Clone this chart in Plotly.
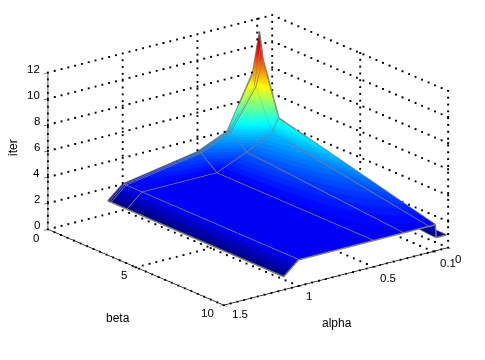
import plotly.graph_objects as go

alpha = [1.1, 1.0, 0.5, 0.3, 0.13, 0.085, 0.08, 0.01]
beta = [0, 0.1, 0.2, 1.1, 10]
iters = [
    [1, 1, 1, 1, 1],
    [2, 2, 2, 2, 2],
    [3, 3, 3, 2, 2],
    [4, 4, 4, 3, 2],
    [8, 7, 7, 4, 2],
    [11, 10, 9, 5, 2],
    [3, 3, 3, 2, 1],
    [1, 1, 1, 1, 1],
]
alpha_ticks = [0, 0.1, 0.5, 1, 1.5]
alpha_labels = ["0", "0.1", "0.5", "1", "1.5"]
beta_ticks = [0, 5, 10]
beta_labels = ["0", "5", "10"]
iter_ticks = [0, 2, 4, 6, 8, 10, 12]
iter_labels = ["0", "2", "4", "6", "8", "10", "12"]

jet_anchor = [(0, (0, 0, 128)), (0.11, (0, 0, 255)), (0.36, (0, 255, 255)),
              (0.61, (255, 255, 0)), (0.86, (255, 0, 0)), (1, (128, 0, 0))]
def jet(t):
    for (t0, c0), (t1, c1) in zip(jet_anchor, jet_anchor[1:]):
        if t <= t1:
            f = (t - t0) / (t1 - t0)
            return tuple(round(a + (b - a) * f) for a, b in zip(c0, c1))
    return jet_anchor[-1][1]
N = 64
scale = []
for i in range(N):
    col = "rgb(%d,%d,%d)" % jet((i + 0.5) / N)
    scale += [[i / N, col], [(i + 1) / N, col]]

fig = go.Figure()
fig.add_trace(go.Surface(
    x=alpha, y=beta, z=[list(c) for c in zip(*iters)], colorscale=scale, cmin=1, cmax=11,
    showscale=False, lighting=dict(ambient=1, diffuse=0, specular=0, roughness=1, fresnel=0),
    hoverinfo="skip"))

# mesh lines
mx, my, mz = [], [], []
for i, a in enumerate(alpha):
    for j, b in enumerate(beta):
        mx.append(a); my.append(b); mz.append(iters[i][j])
    mx.append(None); my.append(None); mz.append(None)
for j, b in enumerate(beta):
    for i, a in enumerate(alpha):
        mx.append(a); my.append(b); mz.append(iters[i][j])
    mx.append(None); my.append(None); mz.append(None)
fig.add_trace(go.Scatter3d(x=mx, y=my, z=mz, mode="lines",
                           line=dict(color="#808080", width=3), hoverinfo="skip", showlegend=False))

# dotted grid (dots placed along the tick lines)
amax, bmax, zmax = 1.5, 10, 12
gx, gy, gz = [], [], []
def seg(p, q, n):
    for k in range(n + 1):
        f = k / n
        gx.append(p[0] + (q[0] - p[0]) * f)
        gy.append(p[1] + (q[1] - p[1]) * f)
        gz.append(p[2] + (q[2] - p[2]) * f)
for a in alpha_ticks:
    seg((a, 0, 0), (a, bmax, 0), 27)
    seg((a, 0, 0), (a, 0, zmax), 23)
for b in beta_ticks:
    seg((0, b, 0), (amax, b, 0), 33)
    seg((0, b, 0), (0, b, zmax), 23)
for z in iter_ticks:
    seg((0, 0, z), (amax, 0, z), 33)
    seg((0, 0, z), (0, bmax, z), 27)
fig.add_trace(go.Scatter3d(x=gx, y=gy, z=gz, mode="markers",
                           marker=dict(color="black", size=1, symbol="square", line=dict(width=0)),
                           hoverinfo="skip", showlegend=False))

axis_common = dict(showgrid=False, showbackground=False, zeroline=False, showline=True, linecolor="black",
                   linewidth=1.5, ticks="outside", ticklen=5, tickcolor="black", tickmode="array",
                   showticklabels=False, showspikes=False, title=dict(text=""))
label_font = dict(family="Liberation Sans", size=11.5, color="black")
scene_labels = []
for v, t, dx, dy in zip(iter_ticks, iter_labels, [-11, -11, -11, -11, -11, -14, -14], [-4] * 7):
    scene_labels.append(dict(x=amax, y=0, z=v, text=t, xshift=dx, yshift=-dy))
for v, t, dx, dy in zip(beta_ticks, beta_labels, [-12, -12, -16], [9, 8, 8]):
    scene_labels.append(dict(x=amax, y=v, z=0, text=t, xshift=dx, yshift=-dy))
for v, t, dx, dy in zip(alpha_ticks, alpha_labels, [10, 15, 15, 11, 16], [11, 11, 11, 10, 9]):
    scene_labels.append(dict(x=v, y=bmax, z=0, text=t, xshift=dx, yshift=-dy))
for a in scene_labels:
    a.update(showarrow=False, xanchor="center", yanchor="middle", font=label_font)

cx, cy, cz = -0.0378, 0.0291, -0.03
PAGE_OFFSET = 8  # browser's default page margin around the figure
fig.update_layout(
    width=485, height=360, margin=dict(l=0, r=0, t=0, b=0, autoexpand=False), paper_bgcolor="white", showlegend=False,
    scene=dict(
        domain=dict(x=[0.02, 1], y=[0.13, 1]),
        xaxis=dict(axis_common, range=[0, amax], tickvals=alpha_ticks),
        yaxis=dict(axis_common, range=[0, bmax], tickvals=beta_ticks),
        zaxis=dict(axis_common, range=[0, zmax], tickvals=iter_ticks),
        aspectmode="manual", aspectratio=dict(x=1.81, y=1.84, z=1.062),
        camera=dict(projection=dict(type="orthographic"), center=dict(x=cx, y=cy, z=cz),
                    eye=dict(x=1.152 + cx, y=1.493 + cy, z=0.665 + cz), up=dict(x=0, y=0, z=1)),
        annotations=scene_labels,
    ),
    annotations=[
        dict(text=t, x=(x - PAGE_OFFSET) / 485, y=1 - (y - PAGE_OFFSET) / 360, xref="paper", yref="paper",
             xanchor="center", yanchor="middle",
             showarrow=False, textangle=ang, font=dict(family="Liberation Sans", size=12, color="black"))
        for t, x, y, ang in [("alpha", 337, 323, 0), ("beta", 118, 318, 0), ("iter", 13, 148, -90)]
    ],
)
fig.write_html("out.html")
